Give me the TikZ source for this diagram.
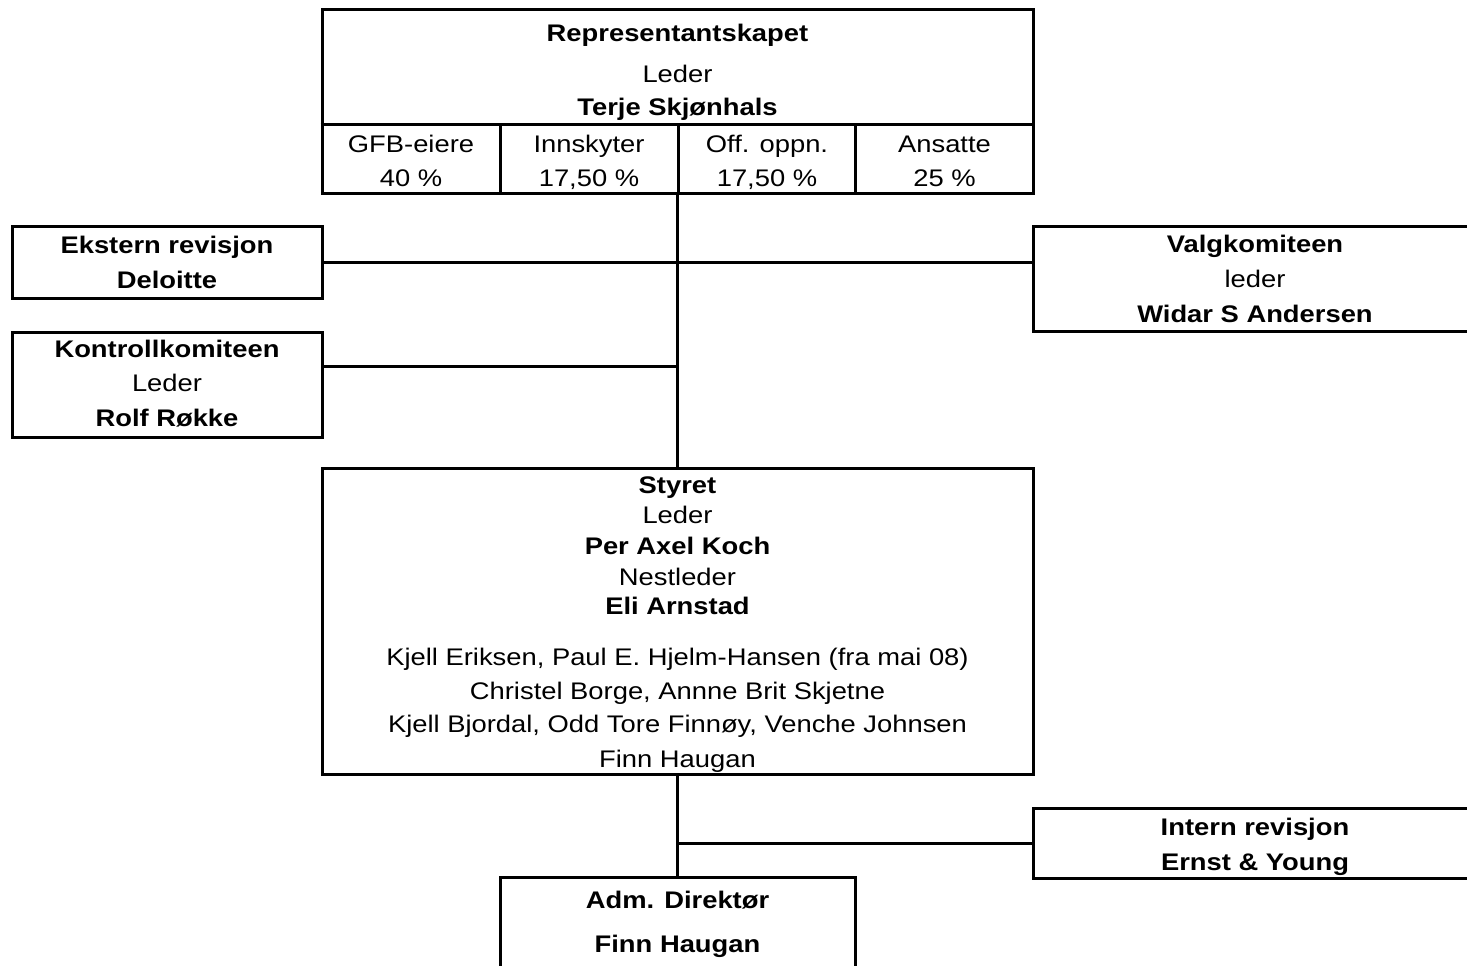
\documentclass[tikz,border=0pt]{standalone}
\usepackage{fontspec}
\setmainfont{Liberation Sans}[FakeStretch=1.14]
\usetikzlibrary{calc}
\begin{document}
\begin{tikzpicture}[x=0.5pt,y=-0.5pt,
  box/.style={draw, line width=1.5pt, inner sep=0pt, fill=none},
  lk/.style={line width=1.5pt},
  txt/.style={anchor=base, inner sep=0pt, font=\fontsize{12}{14}\selectfont},
  btxt/.style={anchor=base, inner sep=0pt, font=\fontsize{12}{14}\selectfont\bfseries}]
\useasboundingbox (0,0) rectangle (1467,965);

% boxes
\node[box, minimum width=355.5pt, minimum height=92pt] (rep) at (677.5,101) {};
\node[box, minimum width=155pt, minimum height=36pt] (ext) at (167,262) {};
\node[box, minimum width=222pt, minimum height=52.5pt] (valg) at (1255,278.5) {};
\node[box, minimum width=155pt, minimum height=52.5pt] (kon) at (167,384.5) {};
\node[box, minimum width=355.5pt, minimum height=153pt] (sty) at (677.5,621) {};
\node[box, minimum width=222pt, minimum height=35pt] (intern) at (1255,843) {};
\node[box, minimum width=177.5pt, minimum height=56.5pt] (adm) at (677.5,933.5) {};

% internal lines of Representantskapet
\draw[lk] (rep.west |- 0,124) -- (rep.east |- 0,124);
\draw[lk] (500.5,124) -- (500.5,193);
\draw[lk] (678,124) -- (678,193);
\draw[lk] (855.5,124) -- (855.5,193);

% connectors
\draw[lk] (rep.south) -- (sty.north);
\draw[lk] (ext.east) -- (ext.east -| valg.west);
\coordinate (kj) at ($(kon.north east)!0.333!(kon.south east)$);
\draw[lk] (kj) -- (kj -| sty.north);
\draw[lk] (sty.south) -- (adm.north);
\draw[lk] (intern.west) -- (intern.west -| adm.north);

% texts: Representantskapet
\node[btxt] (r1) at (677.5,41) {Representantskapet};
\node[txt] (r2) at (677.5,82) {Leder};
\node[btxt] (r3) at (677.5,115) {Terje Skjønhals};
\node[txt] (c1a) at (411,152) {GFB-eiere};
\node[txt] (c1b) at (411,186) {40 \%};
\node[txt] (c2a) at (589,152) {Innskyter};
\node[txt] (c2b) at (589,186) {17,50 \%};
\node[txt] (c3a) at (767,152) {Off. oppn.};
\node[txt] (c3b) at (767,186) {17,50 \%};
\node[txt] (c4a) at (944.5,152) {Ansatte};
\node[txt] (c4b) at (944.5,186) {25 \%};

% Ekstern revisjon
\node[btxt] (e1) at (167,253) {Ekstern revisjon};
\node[btxt] (e2) at (167,288) {Deloitte};

% Kontrollkomiteen
\node[btxt] (k1) at (167,357) {Kontrollkomiteen};
\node[txt] (k2) at (167,391) {Leder};
\node[btxt] (k3) at (167,426) {Rolf Røkke};

% Valgkomiteen
\node[btxt] (v1) at (1255,252) {Valgkomiteen};
\node[txt] (v2) at (1255,287) {leder};
\node[btxt] (v3) at (1255,322) {Widar S Andersen};

% Styret
\node[btxt] (s1) at (677.5,493) {Styret};
\node[txt] (s2) at (677.5,523) {Leder};
\node[btxt] (s3) at (677.5,554) {Per Axel Koch};
\node[txt] (s4) at (677.5,585) {Nestleder};
\node[btxt] (s5) at (677.5,614) {Eli Arnstad};
\node[txt] (s6) at (677.5,665) {Kjell Eriksen, Paul E. Hjelm-Hansen (fra mai 08)};
\node[txt] (s7) at (677.5,699) {Christel Borge, Annne Brit Skjetne};
\node[txt] (s8) at (677.5,732) {Kjell Bjordal, Odd Tore Finnøy, Venche Johnsen};
\node[txt] (s9) at (677.5,767) {Finn Haugan};

% Intern revisjon
\node[btxt] (i1) at (1255,835) {Intern revisjon};
\node[btxt] (i2) at (1255,870) {Ernst \& Young};

% Adm. Direktør
\node[btxt] (a1) at (677.5,908) {Adm. Direktør};
\node[btxt] (a2) at (677.5,952) {Finn Haugan};
\end{tikzpicture}
\end{document}
